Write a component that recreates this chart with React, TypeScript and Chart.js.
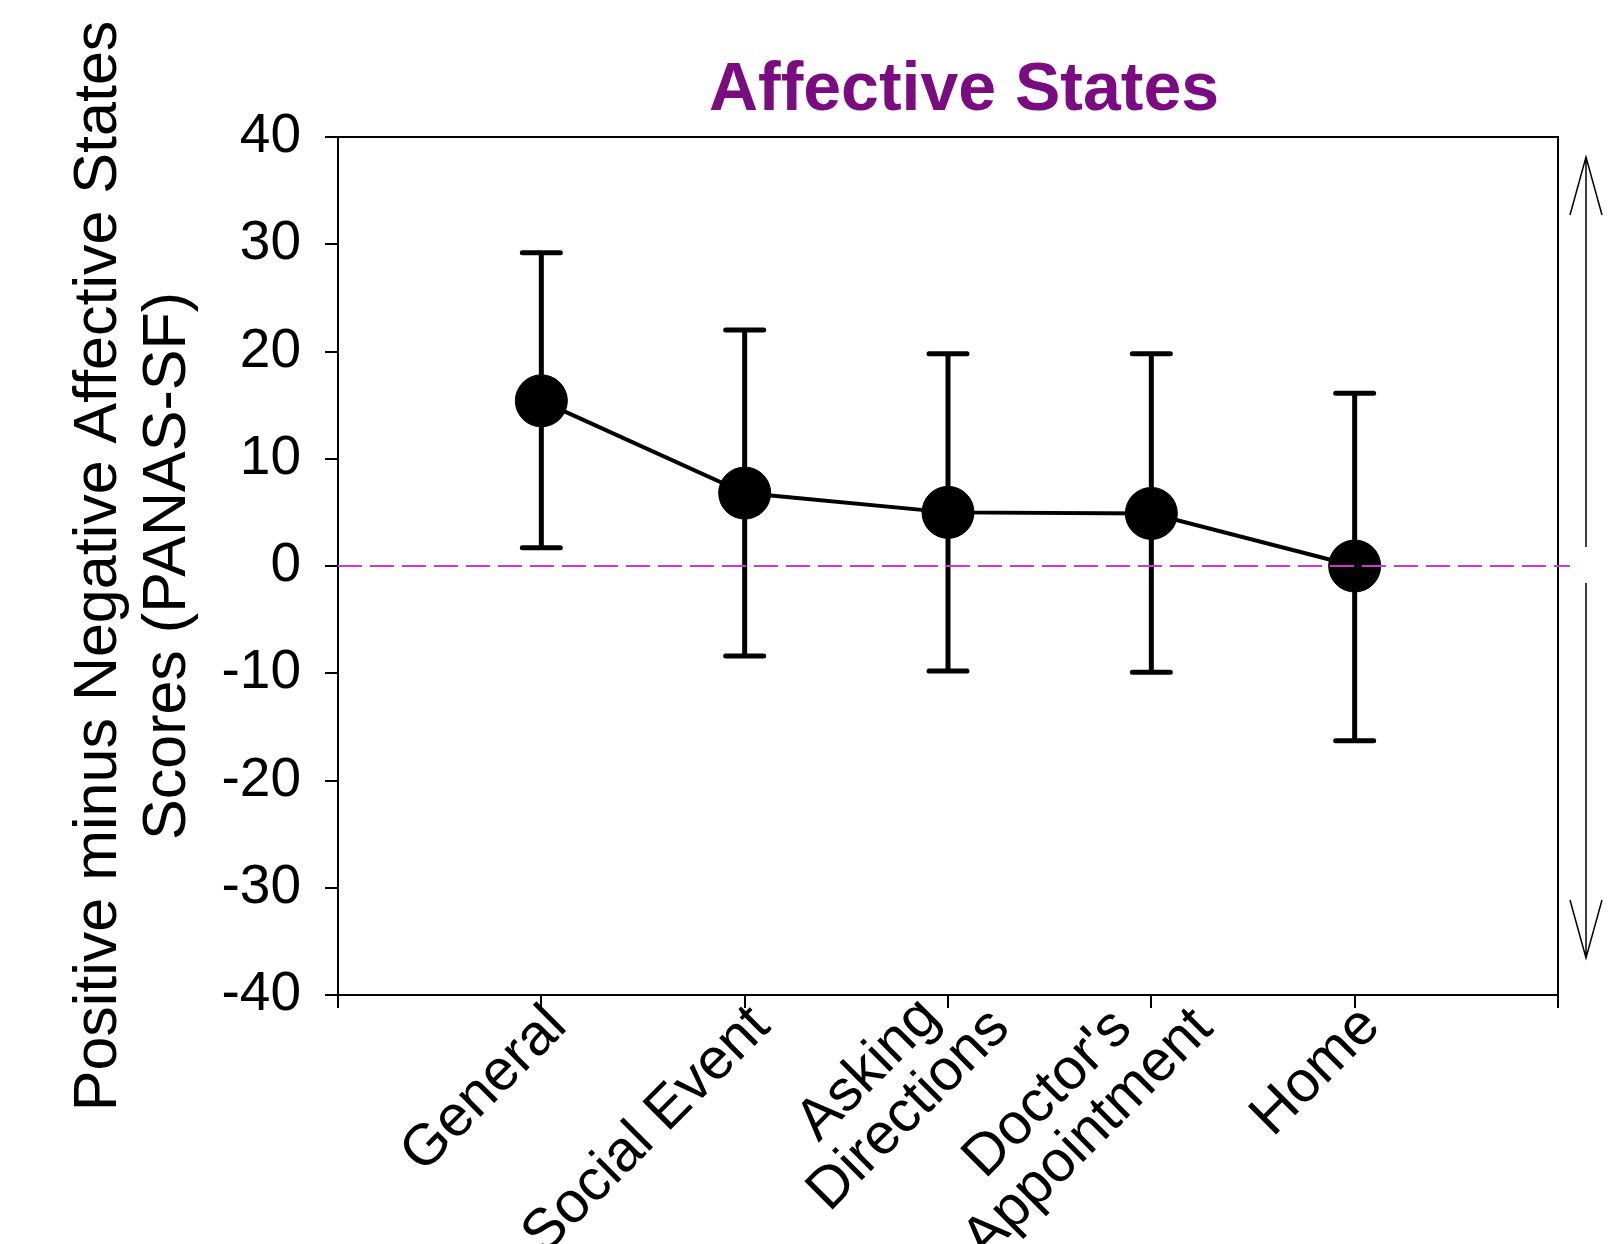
import React, { useEffect, useRef } from 'react';
import { Chart, registerables } from 'chart.js';

Chart.register(...registerables);

// ---- data ----
const categories: string[][] = [
  ['General'],
  ['Social Event'],
  ['Asking', 'Directions'],
  ["Doctor's", 'Appointment'],
  ['Home'],
];
const xPositions = [1, 2, 3, 4, 5];
const means = [15.4, 6.8, 5.0, 4.9, 0.0];
const upperErr = [29.2, 22.0, 19.8, 19.8, 16.1];
const lowerErr = [1.7, -8.4, -9.8, -9.9, -16.3];
const yMin = -40;
const yMax = 40;
const yStep = 10;
const xMin = 0;
const xMax = 6;
const referenceValue = 0;
const titleText = 'Affective States';
const yTitleLines = ['Positive minus Negative Affective States', 'Scores (PANAS-SF)'];

const FONT = '"Liberation Sans", Arial, Helvetica, sans-serif';

const decorPlugin = {
  id: 'decor',
  beforeDatasetsDraw(chart: any) {
    const { ctx, chartArea, scales } = chart;
    const xs = scales.x;
    const ys = scales.y;
    ctx.save();
    // top and right frame
    ctx.strokeStyle = '#000';
    ctx.lineWidth = 2;
    ctx.beginPath();
    ctx.moveTo(chartArea.left, chartArea.top);
    ctx.lineTo(chartArea.right, chartArea.top);
    ctx.lineTo(chartArea.right, chartArea.bottom);
    ctx.stroke();
    // error bars
    ctx.lineWidth = 5;
    ctx.lineCap = 'round';
    xPositions.forEach((xv, i) => {
      const px = xs.getPixelForValue(xv);
      const pu = ys.getPixelForValue(upperErr[i]);
      const pl = ys.getPixelForValue(lowerErr[i]);
      ctx.beginPath();
      ctx.moveTo(px, pu);
      ctx.lineTo(px, pl);
      ctx.moveTo(px - 19, pu);
      ctx.lineTo(px + 19, pu);
      ctx.moveTo(px - 19, pl);
      ctx.lineTo(px + 19, pl);
      ctx.stroke();
    });
    ctx.restore();
  },
  afterDatasetsDraw(chart: any) {
    const { ctx, chartArea, scales } = chart;
    const ys = scales.y;
    ctx.save();
    // dashed reference line
    const y0 = ys.getPixelForValue(referenceValue);
    ctx.strokeStyle = '#cf38cf';
    ctx.lineWidth = 2;
    ctx.setLineDash([24, 8]);
    ctx.beginPath();
    ctx.moveTo(chartArea.left, y0);
    ctx.lineTo(chartArea.right + 12, y0);
    ctx.stroke();
    ctx.setLineDash([]);
    // side arrows
    const ax = chartArea.right + 28;
    ctx.strokeStyle = '#000';
    ctx.lineWidth = 1.5;
    const upTip = chartArea.top + 20;
    const upEnd = y0 - 19;
    const downTip = chartArea.bottom - 37;
    const downEnd = y0 + 17;
    ctx.beginPath();
    ctx.moveTo(ax, upEnd);
    ctx.lineTo(ax, upTip);
    ctx.moveTo(ax - 16, upTip + 58);
    ctx.lineTo(ax, upTip);
    ctx.lineTo(ax + 16, upTip + 58);
    ctx.moveTo(ax, downEnd);
    ctx.lineTo(ax, downTip);
    ctx.moveTo(ax - 16, downTip - 58);
    ctx.lineTo(ax, downTip);
    ctx.lineTo(ax + 16, downTip - 58);
    ctx.stroke();
    ctx.restore();
  },
  afterDraw(chart: any) {
    const { ctx, chartArea, scales } = chart;
    const xs = scales.x;
    ctx.save();
    // title
    ctx.fillStyle = '#7a0b80';
    ctx.font = `bold 68px ${FONT}`;
    ctx.textAlign = 'center';
    ctx.textBaseline = 'alphabetic';
    ctx.fillText(titleText, (chartArea.left + chartArea.right) / 2 + 16, 110);
    // y-axis title
    ctx.fillStyle = '#000';
    ctx.font = `61px ${FONT}`;
    const cy = (chartArea.top + chartArea.bottom) / 2;
    yTitleLines.forEach((line, j) => {
      ctx.save();
      ctx.translate(116 + j * 69, cy);
      ctx.rotate(-Math.PI / 2);
      ctx.textAlign = 'center';
      ctx.fillText(line, 0, 0);
      ctx.restore();
    });
    // x tick labels
    ctx.font = `58px ${FONT}`;
    xPositions.forEach((xv, i) => {
      const px = xs.getPixelForValue(xv);
      const lines = categories[i];
      const n = lines.length;
      const widths = lines.map((l) => ctx.measureText(l).width);
      const maxW = Math.max(...widths);
      const uEnd = -4 + (n - 1) * 24;
      const lineH = 57;
      const firstBase = 43 - (n - 1) * 30;
      ctx.save();
      ctx.translate(px, chartArea.bottom);
      ctx.rotate(-Math.PI / 4);
      ctx.textAlign = 'center';
      lines.forEach((l, j) => {
        ctx.fillText(l, uEnd - maxW / 2, firstBase + j * lineH);
      });
      ctx.restore();
    });
    ctx.restore();
  },
};

export default function App() {
  const ref = useRef<HTMLCanvasElement>(null);
  useEffect(() => {
    if (!ref.current) return;
    const chart = new Chart(ref.current, {
      type: 'line',
      data: {
        datasets: [
          {
            data: xPositions.map((x, i) => ({ x, y: means[i] })),
            borderColor: '#000',
            backgroundColor: '#000',
            borderWidth: 4,
            pointRadius: 26,
            pointBorderWidth: 1,
            pointBackgroundColor: '#000',
            pointBorderColor: '#000',
            tension: 0,
          },
        ],
      },
      options: {
        responsive: false,
        animation: false,
        layout: { padding: { top: 137, right: 57, left: 0, bottom: 0 } },
        plugins: { legend: { display: false }, tooltip: { enabled: false }, title: { display: false } },
        scales: {
          x: {
            type: 'linear',
            min: xMin,
            max: xMax,
            ticks: { stepSize: 1, display: false },
            grid: { drawOnChartArea: false, drawTicks: true, tickLength: 13, color: '#000', lineWidth: 2 },
            border: { display: true, color: '#000', width: 2 },
            afterFit: (scale: any) => {
              scale.height = 249;
            },
          },
          y: {
            type: 'linear',
            min: yMin,
            max: yMax,
            ticks: {
              stepSize: yStep,
              color: '#000',
              padding: 24,
              font: { family: FONT, size: 55 },
            },
            grid: { drawOnChartArea: false, drawTicks: true, tickLength: 13, color: '#000', lineWidth: 2 },
            border: { display: true, color: '#000', width: 2 },
            afterFit: (scale: any) => {
              scale.width = 338;
            },
          },
        },
      },
      plugins: [decorPlugin],
    });
    return () => chart.destroy();
  }, []);
  return (
    <div style={{ position: 'absolute', left: 0, top: 0, width: 1615, height: 1244, background: '#fff' }}>
      <canvas ref={ref} width={1615} height={1244} style={{ display: 'block' }} />
    </div>
  );
}
